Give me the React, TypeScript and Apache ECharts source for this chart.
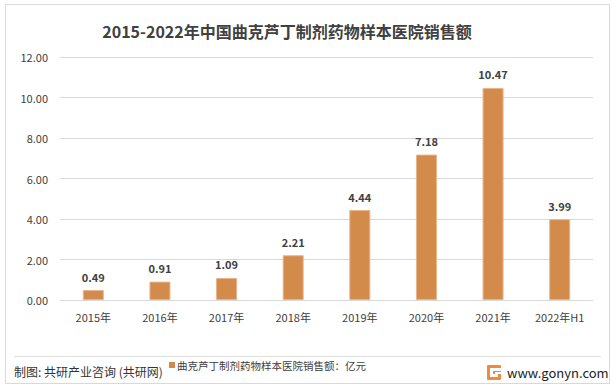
import React, { useEffect, useRef } from "react";
import * as echarts from "echarts";

const categories = ["2015年", "2016年", "2017年", "2018年", "2019年", "2020年", "2021年", "2022年H1"];
const salesValues = [0.49, 0.91, 1.09, 2.21, 4.44, 7.18, 10.47, 3.99];
const yTicks = [0, 2, 4, 6, 8, 10, 12];

const FONT = "'Noto Sans CJK SC', 'Noto Sans', sans-serif";

export default function App() {
  const ref = useRef<HTMLDivElement>(null);
  useEffect(() => {
    if (!ref.current) return;
    const chart = echarts.init(ref.current, undefined, { renderer: "svg" });
    chart.setOption({
      animation: false,
      backgroundColor: "#ffffff",
      title: {
        text: "2015-2022年中国曲克芦丁制剂药物样本医院销售额",
        left: 282,
        top: 18,
        textAlign: "center",
        textStyle: { fontFamily: FONT, fontSize: 16, fontWeight: "bold", color: "#404040" },
      },
      grid: { left: 60, right: 23, top: 57, bottom: 92, containLabel: false },
      xAxis: {
        type: "category",
        data: categories,
        axisLine: { show: true, lineStyle: { color: "#d9d9d9" } },
        axisTick: { show: false },
        axisLabel: { color: "#404040", fontSize: 11, fontFamily: FONT, margin: 11 },
      },
      yAxis: {
        type: "value",
        min: yTicks[0],
        max: yTicks[yTicks.length - 1],
        interval: 2,
        axisLine: { show: false },
        axisTick: { show: false },
        splitLine: { lineStyle: { color: "#d9d9d9" } },
        axisLabel: {
          color: "#404040",
          fontSize: 11,
          fontFamily: FONT,
          margin: 12,
          formatter: (v: number) => v.toFixed(2),
        },
      },
      series: [
        {
          type: "bar",
          data: salesValues,
          barWidth: 21,
          itemStyle: { color: "#D38B4C", borderColor: "#E9B48A", borderWidth: 1 },
          label: {
            show: true,
            position: "top",
            distance: 8,
            formatter: (p: any) => p.value.toFixed(2),
            color: "#404040",
            fontSize: 11,
            fontWeight: "bold",
            fontFamily: FONT,
          },
        },
      ],
      graphic: [
        {
          type: "rect",
          shape: { x: 5.5, y: 4.5, width: 604, height: 379 },
          style: { fill: "none", stroke: "#d9d9d9", lineWidth: 1 },
          silent: true,
        },
        {
          type: "line",
          shape: { x1: 14, y1: 356.5, x2: 601, y2: 356.5 },
          style: { stroke: "#e0e0e0", lineWidth: 1 },
        },
        {
          type: "text",
          x: 14,
          y: 371,
          style: {
            text: "制图: 共研产业咨询 (共研网)",
            fontFamily: FONT,
            fontSize: 12,
            fill: "#333333",
            verticalAlign: "middle",
          },
        },
        {
          type: "rect",
          shape: { x: 169, y: 362, width: 6, height: 6 },
          style: { fill: "#D38B4C" },
        },
        {
          type: "text",
          x: 177,
          y: 365,
          style: {
            text: "曲克芦丁制剂药物样本医院销售额：亿元",
            fontFamily: FONT,
            fontSize: 10.5,
            fill: "#404040",
            verticalAlign: "middle",
          },
        },
        {
          type: "group",
          x: 487,
          y: 365,
          children: [
            { type: "rect", shape: { x: 0, y: 0, width: 14, height: 15, r: 1 }, style: { fill: "#F08A3C" } },
            { type: "rect", shape: { x: 3, y: 3, width: 11, height: 3 }, style: { fill: "#ffffff" } },
            { type: "rect", shape: { x: 3, y: 6, width: 3, height: 6 }, style: { fill: "#ffffff" } },
            { type: "rect", shape: { x: 6, y: 9, width: 5, height: 3 }, style: { fill: "#ffffff" } },
            { type: "rect", shape: { x: 8, y: 7, width: 6, height: 2 }, style: { fill: "#ffffff" } },
          ],
        },
        {
          type: "text",
          x: 507,
          y: 372,
          style: {
            text: "www.gonyn.com",
            fontFamily: FONT,
            fontSize: 13,
            fill: "#222222",
            verticalAlign: "middle",
          },
        },
      ],
    });
    return () => chart.dispose();
  }, []);
  return (
    <div
      ref={ref}
      style={{ position: "fixed", left: 0, top: 0, width: 616, height: 392 }}
    />
  );
}
